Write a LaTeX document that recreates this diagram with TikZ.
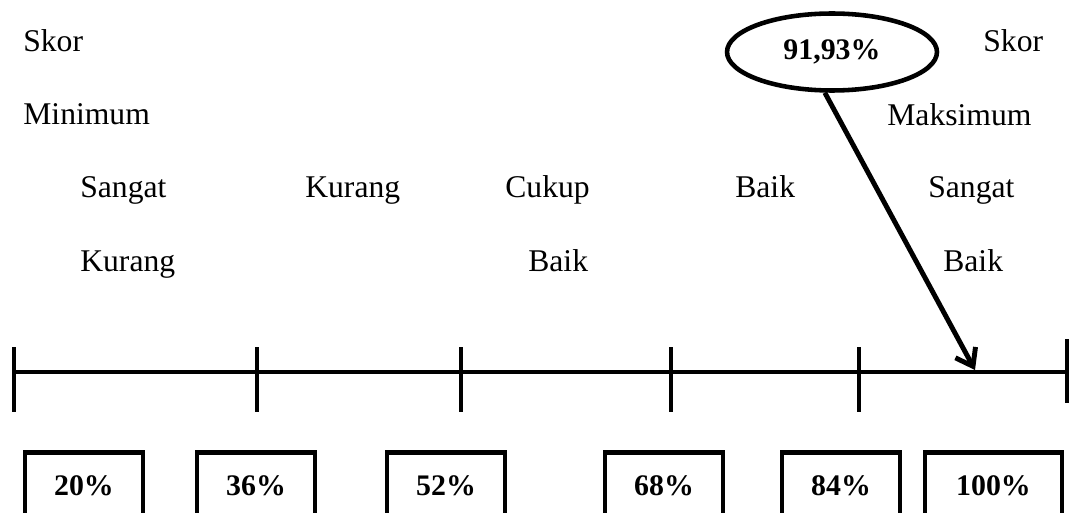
\documentclass[tikz,border=0pt]{standalone}
\usepackage{fontspec}
\setmainfont{Liberation Serif}
\usetikzlibrary{arrows.meta, positioning, shapes.geometric}

\begin{document}
\begin{tikzpicture}[
    x=0.02cm, y=-0.02cm,
    label/.style={anchor=base west, inner sep=0, font=\fontsize{18}{22}\selectfont},
    percent/.style={draw, line width=2.4pt, minimum width=2.36cm, minimum height=1.34cm, font=\fontsize{17}{20}\selectfont\bfseries},
    scale line/.style={line width=2.8pt},
    pointer/.style={line width=2.8pt, -{Straight Barb[length=9pt, width=13pt]}}
]
    \useasboundingbox (0,0) rectangle (1073,513);

    % category labels
    \node[label] (skormin) at (23, 52) {Skor};
    \node[label] (minimum) at (23, 125) {Minimum};
    \node[label] (sk1) at (80, 198) {Sangat};
    \node[label] (sk2) at (80, 272) {Kurang};
    \node[label] (kurang) at (305, 198) {Kurang};
    \node[label] (cukup) at (505, 198) {Cukup};
    \node[label] (cukupbaik) at (528, 272) {Baik};
    \node[label] (baik) at (735, 198) {Baik};
    \node[label] (sb1) at (928, 198) {Sangat};
    \node[label] (sb2) at (943, 272) {Baik};
    \node[label] (skormax) at (983, 52) {Skor};
    \node[label] (maksimum) at (887, 126) {Maksimum};

    % scale line
    \coordinate (t1) at (14, 372);
    \coordinate (t2) at (257, 372);
    \coordinate (t3) at (461, 372);
    \coordinate (t4) at (671, 372);
    \coordinate (t5) at (859, 372);
    \coordinate (t6) at (1067, 372);
    \coordinate (mark) at (975, 370);

    \draw[scale line] (t1) -- (t6);
    \draw[scale line] ([yshift=0.5cm]t1) -- ([yshift=-0.8cm]t1);
    \draw[scale line] ([yshift=0.5cm]t2) -- ([yshift=-0.8cm]t2);
    \draw[scale line] ([yshift=0.5cm]t3) -- ([yshift=-0.8cm]t3);
    \draw[scale line] ([yshift=0.5cm]t4) -- ([yshift=-0.8cm]t4);
    \draw[scale line] ([yshift=0.5cm]t5) -- ([yshift=-0.8cm]t5);
    \draw[scale line] ([yshift=0.66cm]t6) -- ([yshift=-0.62cm]t6);

    % percentages (boxes run past the lower edge)
    \node[percent] (p20) at (84, 486) {20\%};
    \node[percent] (p36) at (256, 486) {36\%};
    \node[percent] (p52) at (446, 486) {52\%};
    \node[percent] (p68) at (664, 486) {68\%};
    \node[percent] (p84) at (841, 486) {84\%};
    \node[percent, minimum width=2.74cm] (p100) at (993.5, 486) {100\%};

    % result
    \node[ellipse, draw, line width=2.6pt, minimum width=4.2cm, minimum height=1.54cm, inner sep=0,
          font=\fontsize{17}{20}\selectfont\bfseries] (score) at (832, 52) {91,93\%};
    \draw[pointer] (score.260) -- (mark);
\end{tikzpicture}
\end{document}
